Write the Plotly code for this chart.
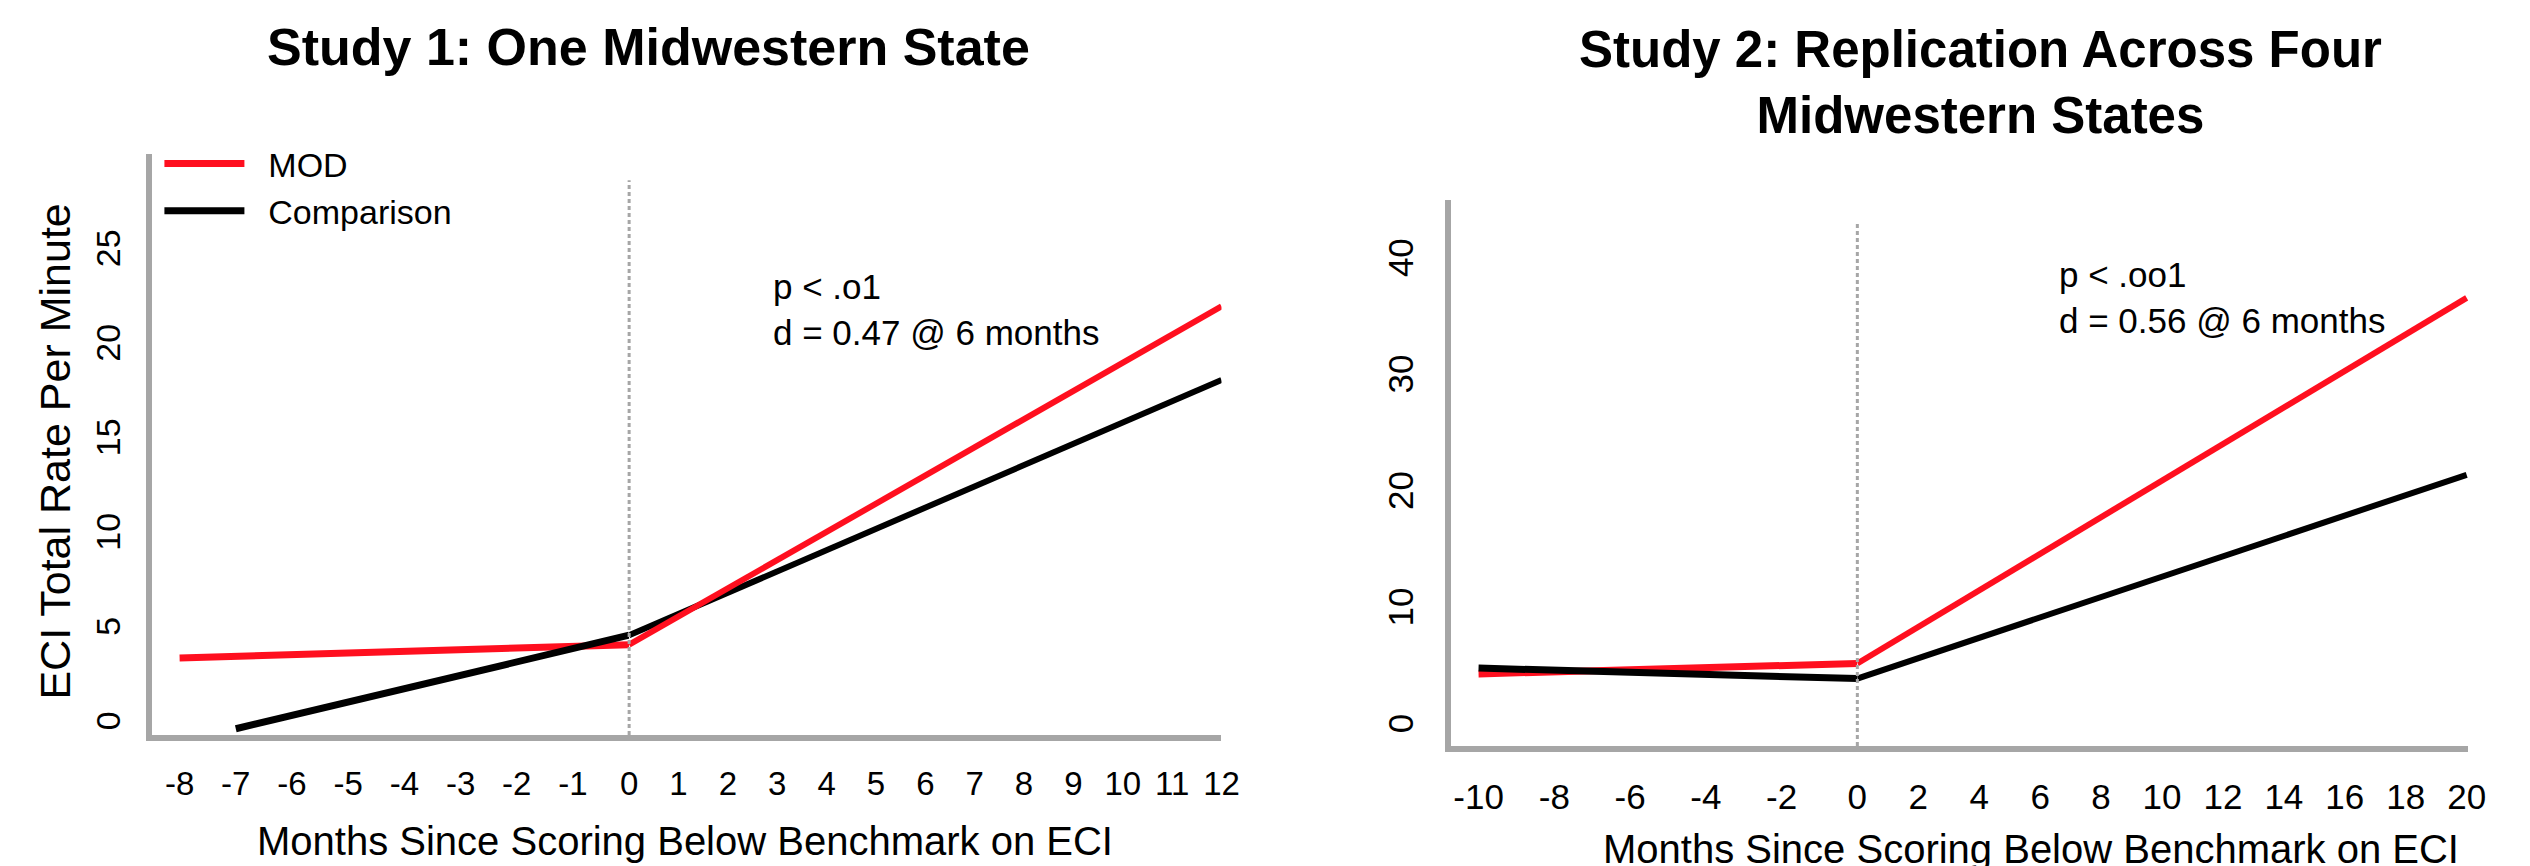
import plotly.graph_objects as go

# ---------------- Data ----------------
# Study 1: One Midwestern State
s1_pre_x_mod = [-8, 0]
s1_pre_mod = [3.6, 4.3]
s1_pre_x_cmp = [-7, 0]
s1_pre_cmp = [-0.15, 4.8]
s1_post_x = [0, 12]
s1_post_mod = [4.3, 22.2]
s1_post_cmp = [4.8, 18.3]
s1_xticks_pre = [-8, -7, -6, -5, -4, -3, -2, -1]
s1_xticks_post = [0, 1, 2, 3, 4, 5, 6, 7, 8, 9, 10, 11, 12]
s1_yticks = [0, 5, 10, 15, 20, 25]

# Study 2: Replication Across Four Midwestern States
s2_pre_x = [-10, 0]
s2_pre_mod = [4.7, 5.6]
s2_pre_cmp = [5.2, 4.3]
s2_post_x = [0, 20]
s2_post_mod = [5.6, 37.0]
s2_post_cmp = [4.3, 21.8]
s2_xticks_pre = [-10, -8, -6, -4, -2]
s2_xticks_post = [0, 2, 4, 6, 8, 10, 12, 14, 16, 18, 20]
s2_yticks = [0, 10, 20, 30, 40]

series_names = ["MOD", "Comparison"]
title1 = "Study 1: One Midwestern State"
title2 = "Study 2: Replication Across Four<br>Midwestern States"
xtitle = "Months Since Scoring Below Benchmark on ECI"
ytitle = "ECI Total Rate Per Minute"
note1 = "p < .o1<br>d = 0.47 @ 6 months"
note2 = "p < .oo1<br>d = 0.56 @ 6 months"

# ---------------- Style ----------------
PAGE_W, PAGE_H = 2530, 866
OFF = 8                      # default page margin around the plot div
W, H = PAGE_W - OFF, PAGE_H - OFF
RED = "#FF0F1F"
BLACK = "#000000"
AXC = "#A6A6A6"
FONT = "Liberation Sans, Arial, sans-serif"

def px_x(p):
    return (p - OFF) / W

def px_y(p):
    return 1 - (p - OFF) / H

fig = go.Figure()

def add_line(x, y, xa, ya, color, width, name=None, legend=False):
    fig.add_trace(go.Scatter(
        x=x, y=y, xaxis=xa, yaxis=ya, mode="lines",
        line=dict(color=color, width=width),
        name=name if name else "", showlegend=legend,
        hoverinfo="skip",
    ))

GAP = "\u00a0\u00a0"

# Study 1 traces
add_line(s1_pre_x_mod, s1_pre_mod, "x", "y", RED, 7, GAP + series_names[0], True)
add_line(s1_pre_x_cmp, s1_pre_cmp, "x", "y", BLACK, 7, GAP + series_names[1], True)
add_line(s1_post_x, s1_post_cmp, "x2", "y", BLACK, 6)
add_line(s1_post_x, s1_post_mod, "x2", "y", RED, 6)

# Study 2 traces
add_line(s2_pre_x, s2_pre_mod, "x3", "y2", RED, 7)
add_line(s2_pre_x, s2_pre_cmp, "x3", "y2", BLACK, 7)
add_line(s2_post_x, s2_post_cmp, "x4", "y2", BLACK, 6)
add_line(s2_post_x, s2_post_mod, "x4", "y2", RED, 6)

def xaxis(domain, rng, ticks, anchor, size, standoff):
    return dict(
        domain=domain, range=rng, anchor=anchor,
        tickmode="array", tickvals=ticks, ticktext=[str(t) for t in ticks],
        showline=True, linecolor=AXC, linewidth=6,
        showgrid=False, zeroline=False, ticks="",
        tickfont=dict(family=FONT, size=size, color="black"),
        ticklabelstandoff=standoff, fixedrange=True,
    )

def yaxis(domain, rng, ticks, anchor, size, standoff):
    return dict(
        domain=domain, range=rng, anchor=anchor,
        tickmode="array", tickvals=ticks, ticktext=[str(t) for t in ticks],
        tickangle=-90,
        showline=True, linecolor=AXC, linewidth=6,
        showgrid=False, zeroline=False, ticks="",
        tickfont=dict(family=FONT, size=size, color="black"),
        ticklabelstandoff=standoff, fixedrange=True,
    )

# pixel layout of the two panels (page pixels)
L1, M1, R1 = 143, 626, 1225
T1, B1 = 154, 735
L2, M2, R2 = 1457, 1868, 2486
T2, B2 = 200, 746

fig.update_layout(
    width=W, height=H,
    margin=dict(l=0, r=0, t=0, b=0),
    paper_bgcolor="white", plot_bgcolor="white",
    font=dict(family=FONT, color="black"),
    xaxis=xaxis([px_x(L1), px_x(M1)], [-8.5, 0], s1_xticks_pre, "y", 33, 14),
    xaxis2=xaxis([px_x(M1), px_x(R1)], [0, 12.0], s1_xticks_post, "y", 33, 14),
    yaxis=yaxis([px_y(B1), px_y(T1)], [-0.48, 30.26], s1_yticks, "x", 34, 12),
    xaxis3=xaxis([px_x(L2), px_x(M2)], [-10.73, 0], s2_xticks_pre, "y2", 35, 15),
    xaxis4=xaxis([px_x(M2), px_x(R2)], [0, 20.06], s2_xticks_post, "y2", 35, 15),
    yaxis2=yaxis([px_y(B2), px_y(T2)], [-1.49, 45.4], s2_yticks, "x3", 35, 18),
    showlegend=True,
    legend=dict(
        x=px_x(151), y=px_y(135), xanchor="left", yanchor="top",
        font=dict(family=FONT, size=34, color="black"),
        itemwidth=80, bgcolor="rgba(0,0,0,0)", traceorder="normal",
    ),
    shapes=[
        dict(type="line", xref="x2 domain", yref="y domain",
             x0=0, x1=0, y0=0, y1=0.955,
             line=dict(color=AXC, width=3, dash="4px,3px")),
        dict(type="line", xref="x4 domain", yref="y2 domain",
             x0=0, x1=0, y0=0, y1=0.958,
             line=dict(color=AXC, width=3, dash="4px,3px")),
    ],
    annotations=[
        dict(text="<b>" + title1 + "</b>", x=px_x(646), y=px_y(47), xref="paper", yref="paper",
             xanchor="center", yanchor="middle", showarrow=False,
             font=dict(family=FONT, size=52, color="black")),
        dict(text="<b>" + title2.replace("<br>", "</b><br><b>") + "</b>", x=px_x(1993), y=px_y(83),
             xref="paper", yref="paper",
             xanchor="center", yanchor="middle", showarrow=False,
             font=dict(family=FONT, size=51, color="black")),
        dict(text=xtitle, x=px_x(682), y=px_y(841), xref="paper", yref="paper",
             xanchor="center", yanchor="middle", showarrow=False,
             font=dict(family=FONT, size=40, color="black")),
        dict(text=xtitle, x=px_x(2044), y=px_y(849), xref="paper", yref="paper",
             xanchor="center", yanchor="middle", showarrow=False,
             font=dict(family=FONT, size=40, color="black")),
        dict(text=ytitle, x=px_x(45), y=px_y(452), xref="paper", yref="paper",
             xanchor="center", yanchor="middle", showarrow=False, textangle=-90,
             font=dict(family=FONT, size=43, color="black")),
        dict(text=note1, x=px_x(769), y=px_y(310), xref="paper", yref="paper",
             xanchor="left", yanchor="middle", showarrow=False, align="left",
             font=dict(family=FONT, size=35, color="black")),
        dict(text=note2, x=px_x(2070), y=px_y(297), xref="paper", yref="paper",
             xanchor="left", yanchor="middle", showarrow=False, align="left",
             font=dict(family=FONT, size=35, color="black")),
    ],
)

fig.write_html("out.html")
